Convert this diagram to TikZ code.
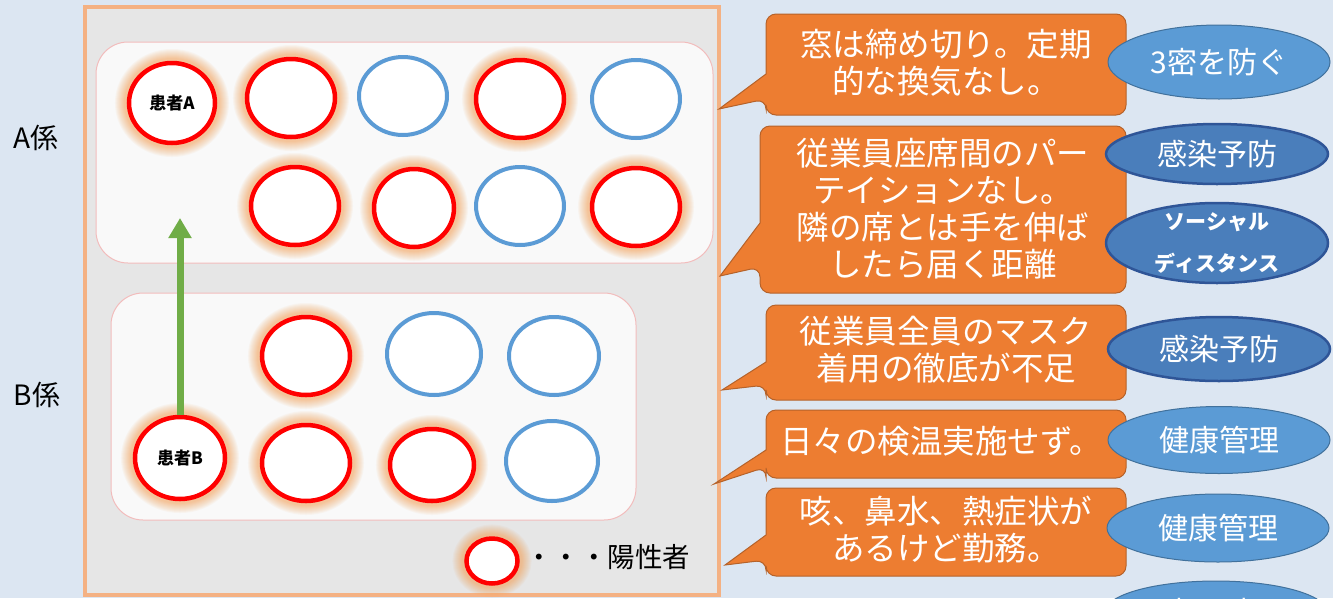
\documentclass[tikz,border=0pt]{standalone}
\usepackage{fontspec}
\setmainfont{Noto Sans CJK JP}
\usetikzlibrary{shapes.geometric,arrows.meta}
\definecolor{bgc}{HTML}{DCE6F2}
\definecolor{framefill}{HTML}{E6E6E6}
\definecolor{framec}{HTML}{F4B183}
\definecolor{grpfill}{HTML}{F9F9F9}
\definecolor{grpc}{HTML}{F2BCBC}
\definecolor{posc}{HTML}{FF0000}
\definecolor{negc}{HTML}{5B9BD5}
\definecolor{glowc}{HTML}{F4A460}
\definecolor{callc}{HTML}{ED7D31}
\definecolor{callb}{HTML}{B5622A}
\definecolor{lightel}{HTML}{5B9BD5}
\definecolor{lightelb}{HTML}{41719C}
\definecolor{darkel}{HTML}{4A7EBB}
\definecolor{darkelb}{HTML}{2F5597}
\definecolor{arrowc}{HTML}{70AD47}
\newcommand{\mycallout}[8]{%
  \draw[callshape] (#1,#5) [rounded corners=10pt] -- (#1,#2) -- (#3,#2) -- (#3,#4) -- (#1,#4) -- (#1,#6) [sharp corners] -- (#7,#8) -- cycle;}
\begin{document}
\begin{tikzpicture}[x=1pt,y=-1pt,
  person/.style={ellipse, minimum width=88pt, minimum height=78pt, inner sep=0pt, fill=white},
  posp/.style={person, draw=posc, line width=4.5pt,
    preaction={draw=glowc, line width=28pt, draw opacity=0.07},
    preaction={draw=glowc, line width=26pt, draw opacity=0.07},
    preaction={draw=glowc, line width=24pt, draw opacity=0.07},
    preaction={draw=glowc, line width=22pt, draw opacity=0.07},
    preaction={draw=glowc, line width=20pt, draw opacity=0.08},
    preaction={draw=glowc, line width=18pt, draw opacity=0.08},
    preaction={draw=glowc, line width=16pt, draw opacity=0.09},
    preaction={draw=glowc, line width=14pt, draw opacity=0.10},
    preaction={draw=glowc, line width=12pt, draw opacity=0.11},
    preaction={draw=glowc, line width=10pt, draw opacity=0.12}},
  negp/.style={person, draw=negc, line width=4pt},
  grp/.style={draw=grpc, line width=1pt, fill=grpfill, rounded corners=32pt},
  callshape/.style={fill=callc, draw=callb, line width=1pt},
  calltext/.style={text=white, align=center, font=\fontsize{32.5}{37}\selectfont},
  lel/.style={ellipse, fill=lightel, draw=lightelb, line width=1pt, inner sep=0pt, minimum width=222pt, text=white, font=\fontsize{30}{34}\selectfont},
  del/.style={ellipse, fill=darkel, draw=darkelb, line width=2.5pt, inner sep=0pt, minimum width=222pt, text=white, font=\fontsize{30}{34}\selectfont},
  grouplabel/.style={font=\fontsize{28}{32}\selectfont},
  patient/.style={font=\fontsize{17}{20}\selectfont\bfseries},
  arr/.style={draw=arrowc, line width=7pt, -{Triangle[width=22pt,length=20pt]}}
]
\useasboundingbox (0,0) rectangle (1333,598);
\fill[bgc] (0,0) rectangle (1333,598);
\draw[draw=framec, fill=framefill, line width=4pt] (85,7) rectangle (719,595);
\draw[grp] (96,42) rectangle (713,263);
\draw[grp] (111,293) rectangle (636,520);

\node[grouplabel] (lA) at (36,138) {A係};
\node[grouplabel] (lB) at (37,395) {B係};

% group A
\node[posp, patient, minimum width=86pt, minimum height=80pt] (pA) at (172,103) {患者A};
\node[posp] (a2) at (291,98) {};
\node[negp] (a3) at (403,96) {};
\node[posp] (a4) at (520,99) {};
\node[negp] (a5) at (636,99) {};
\node[posp] (a6) at (295,206) {};
\node[posp, minimum width=80pt] (a7) at (414,208) {};
\node[negp] (a8) at (520,206) {};
\node[posp] (a9) at (636,207) {};

% group B
\node[posp] (b1) at (306,356) {};
\node[negp, minimum width=94pt, minimum height=82pt] (b2) at (434,354) {};
\node[negp, minimum width=90pt] (b3) at (554,356) {};
\node[posp, patient, minimum width=90pt, minimum height=82pt] (pB) at (180,458) {患者B};
\node[posp, minimum height=76pt] (b5) at (306,463) {};
\node[posp, minimum width=84pt, minimum height=72pt] (b6) at (432,465) {};
\node[negp, minimum width=92pt, minimum height=80pt] (b7) at (552,461) {};

% legend
\node[posp, minimum width=51pt, minimum height=45pt] (lg) at (492,561) {};
\node[anchor=west, font=\fontsize{27.5}{30}\selectfont, inner sep=0pt] (lgt) at (525,557) {・・・陽性者};

% arrow
\coordinate (atip) at (180,218);
\draw[arr] (pB.north) -- (atip);

% callouts
\mycallout{766}{14}{1126}{115}{74}{99}{719}{109}
\mycallout{760}{126}{1126}{293}{223}{267}{720}{276}
\mycallout{766}{305}{1126}{400}{362}{385}{722}{390}
\mycallout{766}{410}{1126}{478}{450}{467}{714}{484}
\mycallout{766}{488}{1126}{576}{535}{560}{725}{565}

\node[calltext] (c1) at (946,63) {窓は締め切り。定期\\的な換気なし。};
\node[calltext] (c2) at (943,209) {従業員座席間のパー\\テイションなし。\\隣の席とは手を伸ば\\したら届く距離};
\node[calltext] (c3) at (946,350) {従業員全員のマスク\\着用の徹底が不足};
\node[calltext] (c4) at (941,441) {日々の検温実施せず。};
\node[calltext] (c5) at (946,530) {咳、鼻水、熱症状が\\あるけど勤務。};

% right ellipses
\node[lel, minimum height=74pt, font=\fontsize{30}{34}\selectfont] (e1) at (1219,62) {3密を防ぐ};
\node[del, minimum height=60pt] (e2) at (1217,154) {感染予防};
\node[del, minimum height=80pt] (e3) at (1217,243) {};
\node[text=white, align=center, font=\fontsize{21}{42}\selectfont\bfseries] (e3t) at (1217,243) {ソーシャル\\ディスタンス};
\node[del, minimum height=64pt] (e4) at (1219,349) {感染予防};
\node[lel, minimum height=67pt] (e5) at (1219,440) {健康管理};
\node[lel, minimum height=68pt] (e6) at (1218,528) {健康管理};
\node[lel, minimum height=62pt, font=\fontsize{30}{34}\selectfont] (e7) at (1216,612) {3密を防ぐ};
\end{tikzpicture}
\end{document}
